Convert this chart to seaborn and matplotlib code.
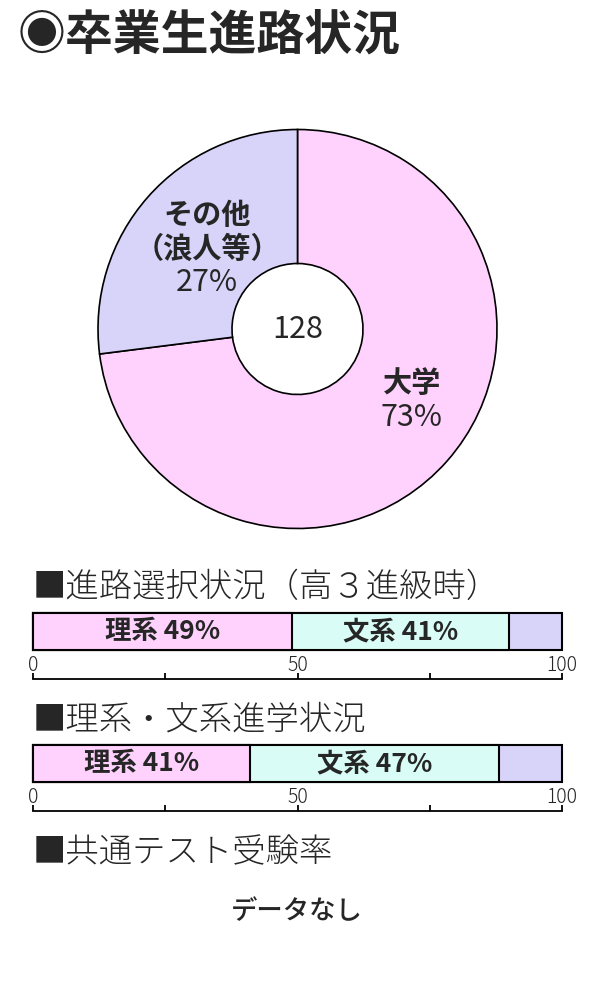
import numpy as np
import pandas as pd
import matplotlib
matplotlib.use('Agg')
import matplotlib.pyplot as plt
import seaborn as sns

# data
pie_labels = ['大学', 'その他\n（浪人等）']
pie_values = [73, 27]
pie_total = 128

bar1_labels = ['理系', '文系', 'その他']
bar1_values = [49, 41, 10]
bar2_labels = ['理系', '文系', 'その他']
bar2_values = [41, 47, 12]

scale_ticks = [0, 25, 50, 75, 100]
scale_ticklabels = ['0', '', '50', '', '100']

pink = '#ffd2fe'
cyan = '#d9fdf6'
lav = '#d8d3f8'
seg_colors = [pink, cyan, lav]

sns.set_theme(style='white')
plt.rcParams['font.family'] = ['Noto Sans CJK JP', 'DejaVu Sans']

W, H = 600, 1000
fig = plt.figure(figsize=(6, 10), dpi=100)


def fx(x):
    return x / W


def fy(y):
    return 1 - y / H


def px_axes(x0, y0, x1, y1):
    # axes from pixel box (top-left origin)
    return fig.add_axes([fx(x0), fy(y1), (x1 - x0) / W, (y1 - y0) / H])


# title
fig.text(fx(18), fy(35), '◉卒業生進路状況', fontsize=34.5, fontweight='bold',
         ha='left', va='center')

# donut
cx, cy, r = 297.5, 329, 199.5
ax = px_axes(cx - r, cy - r, cx + r, cy + r)
ax.pie(pie_values, colors=[pink, lav], startangle=90, counterclock=False,
       radius=1, wedgeprops=dict(width=1 - 65.5 / r, edgecolor='black', linewidth=1.2))
ax.set_xlim(-1, 1)
ax.set_ylim(-1, 1)
ax.set_aspect('equal')
ax.axis('off')
for p in ax.patches:
    p.set_clip_on(False)

fig.text(fx(298), fy(329), str(pie_total), fontsize=22, ha='center', va='center')
fig.text(fx(412), fy(383), pie_labels[0], fontsize=21, fontweight='bold', ha='center', va='center')
fig.text(fx(412), fy(418), f'{pie_values[0]}%', fontsize=22, ha='center', va='center')
other1, other2 = pie_labels[1].split('\n')
fig.text(fx(207), fy(215), other1, fontsize=21, fontweight='bold', ha='center', va='center')
fig.text(fx(207), fy(249), other2, fontsize=21, fontweight='bold', ha='center', va='center')
fig.text(fx(207), fy(283), f'{pie_values[1]}%', fontsize=22, ha='center', va='center')


def stacked_bar(y0, y1, values, labels):
    ax = px_axes(33, y0, 562, y1)
    cum = np.cumsum(values)
    # draw from the longest down so each shorter bar sits on top
    for i in range(len(values) - 1, -1, -1):
        df = pd.DataFrame({'v': [cum[i]], 'k': ['a']})
        sns.barplot(data=df, x='v', y='k', orient='h', color=seg_colors[i],
                    saturation=1, width=1, edgecolor='black', linewidth=1.5, ax=ax)
    ax.set_xlim(0, 100)
    ax.set_ylim(0.5, -0.5)
    ax.axis('off')
    for p in ax.patches:
        p.set_clip_on(False)
    starts = np.concatenate([[0], cum[:-1]])
    for i in range(2):
        ax.text(starts[i] + values[i] / 2, 0, f'{labels[i]} {values[i]}%',
                fontsize=19, fontweight='bold', ha='center', va='center')


def scale_axis(y_line):
    ax = px_axes(33, y_line - 3, 562, y_line)
    ax.set_xlim(0, 100)
    ax.set_ylim(0, 1)
    for s in ['top', 'left', 'right']:
        ax.spines[s].set_visible(False)
    ax.spines['bottom'].set_color('black')
    ax.spines['bottom'].set_linewidth(1.3)
    ax.set_yticks([])
    ax.set_xticks(scale_ticks)
    ax.set_xticklabels(scale_ticklabels)
    ax.tick_params(axis='x', direction='in', length=4, width=1.3, color='black',
                   bottom=True, top=False, labelbottom=False, labeltop=True,
                   labelsize=14, pad=0)
    for t in ax.get_xticklabels():
        t.set_fontweight('light')
    ax.patch.set_alpha(0)


fig.text(fx(33), fy(588), '■進路選択状況（高３進級時）', fontsize=24, fontweight='light',
         ha='left', va='center')
stacked_bar(613, 650, bar1_values, bar1_labels)
scale_axis(679)

fig.text(fx(33), fy(720), '■理系・文系進学状況', fontsize=24, fontweight='light',
         ha='left', va='center')
stacked_bar(745, 782, bar2_values, bar2_labels)
scale_axis(811)

fig.text(fx(33), fy(853), '■共通テスト受験率', fontsize=24, fontweight='light',
         ha='left', va='center')
fig.text(fx(297), fy(912), 'データなし', fontsize=19, fontweight='medium',
         ha='center', va='center')

fig.savefig('out.png', dpi=100, facecolor='white')
